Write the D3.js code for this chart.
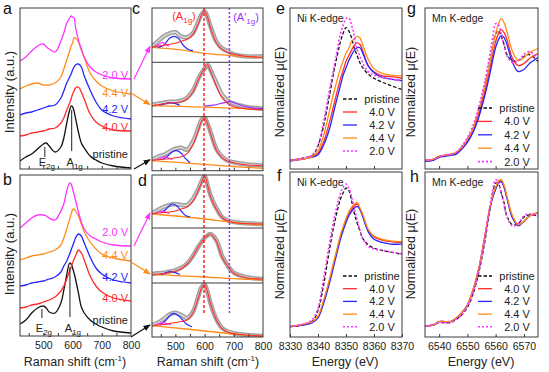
<!DOCTYPE html>
<html><head><meta charset="utf-8">
<script src="https://cdn.jsdelivr.net/npm/d3@7"></script>
<style>
body{margin:0;background:#fff}
svg{display:block}
text{font-family:"Liberation Sans",Arial,sans-serif}
</style></head>
<body><svg id="chart" width="549" height="372"></svg>
<script>
// ---------------- DATA ----------------
const seriesLabels = ["pristine","4.0 V","4.2 V","4.4 V","2.0 V"];
const seriesColors = ["#111111","#ff2b2b","#2626ff","#ff8c1a","#ff33ff"];

// Raman (panels a, b)
const ramanShift = [420,440,460,480,500,510,520,540,560,570,580,590,595,600,605,610,620,630,640,660,680,700,740,800];
const aPristine = [8,12,15,20,25,26,23,17,22,31,46,59,63,62,58,51,37,26,21,13,9,6,3,1];
const a40 = [33,34,36,37,38,39,40,41,46,51,59,66,70,75,78,81,82,77,70,55,47,43,39,38];
const a42 = [54,56,57,59,61,62,63,64,71,78,86,92,95,99,102,104,105,102,93,79,67,59,53,50];
const a44 = [80,83,85,86,84,84,84,86,92,100,109,118,123,126,131,131,127,119,111,96,88,83,78,75];
const a20 = [108,112,118,123,125,122,120,117,128,136,146,151,153,152,151,142,129,120,112,102,97,94,91,90];
const bPristine = [12,16,23,28,30,28,24,23,33,46,61,73,72,68,63,57,43,29,23,16,12,9,5,3];
const b40 = [28,29,31,32,34,35,36,39,45,50,57,65,69,73,77,80,86,83,76,60,50,44,38,35];
const b42 = [50,51,53,54,55,56,57,59,64,70,75,82,86,90,94,98,102,100,93,79,68,62,56,53];
const b44 = [76,78,80,81,82,83,84,86,91,98,107,117,122,126,127,125,120,112,104,94,87,82,78,75];
const b20 = [108,113,118,121,121,120,118,116,125,132,145,153,152,147,142,136,124,114,107,100,97,94,91,90];

// Peak fits (panels c, d)
const fitShift = [420,440,460,480,500,520,540,560,580,590,600,610,620,640,660,680,700,740,800];
const baseShift = [420,520,600,700,800];
const c1Data = [16,21,26,29,30,26,25,29,42,48,51,45,36,21,14,11,8,6,6];
const c1Red  = [15,16,17,18,19,21,23,28,40,48,51,45,35,20,13,10,8,6,5];
const c1BlueX = [440,460,480,495,510,530,550,560]; const c1Blue = [15,17,24,26,24,16,12,12];
const c1MagX = [430,445,455,465,480]; const c1Mag = [16,18,20,18,16];
const c1Base = [15,12.5,9,6.5,5];
const c2Data = [12,13,14,15,15,16,19,26,39,44,48,52,47,34,22,16,13,10,8];
const c2Red  = [11,12,13,14,14,15,18,25,38,44,48,52,46,31,19,13,10,8,7];
const c2PurX = [600,630,660,685,710,740,770,800]; const c2Pur = [10.5,11.5,13.5,15,13,10,8.5,8];
const c2BlueX = [445,465,482,500,515]; const c2Blue = [11.5,13,14,13,11.5];
const c2Base = [11,10.3,9.5,8.5,7.7];
const c3Data = [11,14,16,19,22,23,21,29,44,51,53,47,39,22,14,10,8.5,6.5,5.3];
const c3Red  = [10.5,11,11.5,12,13,14,17,26,42,50,53,47,38,21,13,9.5,8,6,5];
const c3BlueX = [455,475,490,505,520,535,550]; const c3Blue = [11,15,19,20,17.5,12,8];
const c3MagX = [440,455,465,478,490]; const c3Mag = [11,13,14,12.5,11];
const c3Base = [10,8,6.3,4.2,2.3];
const d1Data = [15,18,21,23,24,23,23,29,40,47,52,43,33,20,11,7.5,6,4.7,4];
const d1Red  = [14.5,15,15.5,16,17,19,21,27,39,46,52,43,32,19,10.5,7,5.5,4.5,4];
const d1BlueX = [450,465,480,490,505,520,535,550]; const d1Blue = [15,18,22.5,24,22,17,12.5,11];
const d1MagX = [430,445,455,465,480]; const d1Mag = [14.5,16,17,16,14.5];
const d1Base = [14,11.5,9,5.5,3];
const d2Data = [9,9.7,10.3,11.5,12.7,15.3,19.5,27,37,41,45,47.5,49,43,27,17,10.3,6,4];
const d2Red  = [8.5,9,9.5,10.5,12,14.5,19,26.5,37,41,45,47.5,49,42,26,16.5,10,5.5,4];
const d2BlueX = [450,468,482,500,515]; const d2Blue = [8.5,10.3,11.3,10.3,8.5];
const d2Base = [8.7,7.2,6,4.3,3];
const d3Data = [12,14.3,18,22.5,24.3,22,19,25,42,50,52.5,45,34,18,9,5.5,3.8,2.2,1];
const d3Red  = [11.5,12,12.5,13.5,14.5,15.5,17,24,41,49.5,52.5,45,33.5,17.5,8.5,5,3.5,2,1];
const d3BlueX = [448,465,480,494,510,525,540,557]; const d3Blue = [12,16,21,23.7,21.5,17,12.5,10.3];
const d3MagX = [430,445,459,470,485]; const d3Mag = [12,13.5,14.3,13.5,12];
const d3Base = [11.3,8.5,6,3,0.5];
const a1gShift = 598, a1gPrimeShift = 685;

// XANES Ni K-edge (e, f)
const niEnergy = [8330,8335,8338,8340,8342,8344,8346,8348,8349,8350,8351,8352,8353,8354,8355,8356,8358,8360,8363,8366,8370];
const ePristine = [0,0.03,0.06,0.18,0.43,0.79,1.16,1.47,1.58,1.65,1.61,1.52,1.39,1.30,1.21,1.15,1.07,1.02,0.97,0.93,0.88];
const e40 = [0,0.02,0.05,0.09,0.23,0.46,0.74,1.01,1.12,1.23,1.30,1.37,1.43,1.46,1.44,1.36,1.17,1.10,1.05,1.04,1.02];
const e42 = [-0.01,0.02,0.04,0.07,0.19,0.38,0.66,0.93,1.06,1.15,1.24,1.31,1.37,1.40,1.40,1.33,1.17,1.09,1.03,1.01,0.99];
const e44 = [0,0.02,0.05,0.12,0.31,0.60,0.89,1.14,1.24,1.33,1.39,1.48,1.51,1.54,1.52,1.43,1.25,1.14,1.08,1.06,1.05];
const e20 = [0,0.03,0.07,0.19,0.48,0.86,1.21,1.57,1.68,1.76,1.77,1.68,1.54,1.38,1.29,1.21,1.10,1.06,1.03,1.01,0.99];
const fPristine = [0,0.02,0.07,0.20,0.52,0.94,1.31,1.59,1.67,1.73,1.70,1.57,1.41,1.29,1.19,1.10,1.02,0.98,0.95,0.93,0.90];
const f40 = [0,0.03,0.06,0.12,0.31,0.56,0.84,1.12,1.23,1.33,1.41,1.47,1.51,1.53,1.47,1.39,1.20,1.12,1.08,1.06,1.05];
const f42 = [0,0.02,0.05,0.11,0.29,0.53,0.81,1.09,1.20,1.30,1.38,1.44,1.48,1.50,1.46,1.37,1.18,1.09,1.05,1.03,1.03];
const f44 = [0,0.03,0.06,0.13,0.33,0.58,0.86,1.14,1.25,1.35,1.43,1.49,1.53,1.55,1.48,1.40,1.21,1.13,1.09,1.07,1.06];
const f20 = [0,0.03,0.09,0.23,0.60,1.02,1.39,1.66,1.74,1.78,1.73,1.62,1.47,1.33,1.20,1.10,1.00,0.97,0.95,0.93,0.91];

// XANES Mn K-edge (g, h)
const mnEnergy = [6535,6538,6540,6542,6544,6546,6548,6550,6552,6554,6556,6558,6559,6560,6561,6562,6563,6564,6566,6568,6570,6572,6575];
const gPristine = [0,0.01,0.04,0.05,0.06,0.07,0.13,0.21,0.32,0.49,0.71,0.99,1.14,1.27,1.30,1.24,1.16,1.06,1.00,1.00,1.04,1.06,0.99];
const g40 = [0,0.01,0.04,0.05,0.06,0.07,0.12,0.19,0.30,0.46,0.67,0.92,1.06,1.19,1.27,1.31,1.28,1.21,1.02,0.95,0.97,1.02,1.07];
const g42 = [-0.01,0,0.03,0.04,0.05,0.06,0.11,0.18,0.28,0.43,0.63,0.87,1.01,1.13,1.21,1.25,1.23,1.16,0.98,0.89,0.91,0.97,1.03];
const g44 = [0,0.01,0.04,0.05,0.06,0.08,0.13,0.21,0.32,0.50,0.72,0.98,1.13,1.27,1.37,1.42,1.38,1.29,1.09,1.00,1.03,1.08,1.12];
const g20 = [0,0.01,0.04,0.05,0.06,0.08,0.14,0.23,0.35,0.53,0.77,1.07,1.24,1.37,1.36,1.27,1.15,1.05,0.98,1.00,1.06,1.09,1.02];
const hPristine = [0,0.01,0.03,0.03,0.03,0.06,0.10,0.17,0.29,0.48,0.74,1.06,1.20,1.30,1.29,1.21,1.12,1.00,0.92,0.93,0.99,1.01,1.00];
const h40 = [0,0.01,0.04,0.04,0.04,0.07,0.12,0.19,0.33,0.52,0.79,1.08,1.18,1.25,1.31,1.32,1.27,1.17,0.99,0.92,0.95,1.00,1.03];
const h42 = [0,0.01,0.04,0.04,0.04,0.07,0.12,0.19,0.32,0.51,0.78,1.07,1.17,1.24,1.30,1.31,1.26,1.16,0.98,0.91,0.95,1.00,1.03];
const h44 = [0,0.01,0.04,0.04,0.04,0.07,0.12,0.19,0.33,0.52,0.79,1.08,1.19,1.26,1.32,1.33,1.28,1.18,1.00,0.92,0.95,1.00,1.03];
const h20 = [0,0.01,0.03,0.03,0.03,0.06,0.10,0.18,0.30,0.50,0.77,1.09,1.24,1.33,1.30,1.20,1.10,0.99,0.91,0.93,1.00,1.02,1.00];

const ramanTicks = [500,600,700,800];
const ramanMinor = [450,500,550,600,650,700,750];
const niTicks = [8330,8340,8350,8360,8370];
const mnTicks = [6540,6550,6560,6570];

// ---------------- DRAWING ----------------
const svg = d3.select("#chart");
const FRAME = "#3a3a3a";
let clipId = 0;

function clipGroup(x0,x1,y0,y1){
  const id = "clip"+(clipId++);
  svg.append("clipPath").attr("id",id).append("rect")
    .attr("x",x0).attr("y",y0).attr("width",x1-x0).attr("height",y1-y0);
  return svg.append("g").attr("clip-path","url(#"+id+")");
}
function frame(x0,x1,y0,y1){
  svg.append("rect").attr("x",x0).attr("y",y0).attr("width",x1-x0).attr("height",y1-y0)
    .attr("fill","none").attr("stroke",FRAME).attr("stroke-width",1);
}
function curve(g, xs, ys, xS, yS, color, w, dash){
  const line = d3.line().x(i=>xS(xs[i])).y(i=>yS(ys[i])).curve(d3.curveCatmullRom.alpha(0.5));
  const p = g.append("path").attr("d", line(d3.range(xs.length)))
    .attr("fill","none").attr("stroke",color).attr("stroke-width",w)
    .attr("stroke-linejoin","round").attr("stroke-linecap","butt");
  if(dash) p.attr("stroke-dasharray",dash);
  return p;
}
function bottomAxis(xS, y, ticks, labels){
  const ax = d3.axisBottom(xS).tickValues(ticks).tickSizeInner(-3).tickSizeOuter(0).tickPadding(6)
    .tickFormat(labels ? d3.format("d") : "");
  const g = svg.append("g").attr("transform","translate(0,"+y+")").call(ax);
  g.select(".domain").remove();
  g.selectAll("line").attr("stroke",FRAME);
  g.selectAll("text").attr("font-size",10.5).attr("fill","#222")
    .attr("font-family","Liberation Sans, Arial, sans-serif");
  return g;
}
function panelLetter(t,x,y){
  svg.append("text").attr("x",x).attr("y",y).attr("font-size",16).attr("fill","#111").text(t);
}
function yTitle(t,x,y,size){
  svg.append("text").attr("transform","translate("+x+","+y+") rotate(-90)")
    .attr("text-anchor","middle").attr("font-size",size||13).attr("fill","#222").text(t);
}
function ramanTitle(cx,y){
  const t = svg.append("text").attr("x",cx).attr("y",y).attr("text-anchor","middle")
    .attr("font-size",12.5).attr("fill","#222");
  t.append("tspan").text("Raman shift (cm");
  t.append("tspan").attr("font-size",8).attr("dy",-5).text("-1");
  t.append("tspan").attr("dy",5).text(")");
}
function subLabel(x,y,main,sub,color,anchor,open,close){
  const t = svg.append("text").attr("x",x).attr("y",y).attr("text-anchor",anchor||"middle")
    .attr("font-size",11).attr("fill",color);
  t.append("tspan").text((open||"")+main);
  t.append("tspan").attr("font-size",8).attr("dy",3).text(sub);
  if(close) t.append("tspan").attr("dy",-3).text(close);
}

// ---- Panels a & b ----
const xA = d3.scaleLinear().domain([420,800]).range([20,131]);
const yA = d3.scaleLinear().domain([0,161]).range([169,8]);
const yB = d3.scaleLinear().domain([0,161]).range([336,175]);
const aSeries = [aPristine,a40,a42,a44,a20];
const bSeries = [bPristine,b40,b42,b44,b20];
[[aSeries,yA,[8,169]],[bSeries,yB,[175,336]]].forEach(([ser,yS,[t,b]])=>{
  const g = clipGroup(20,131,t,b);
  ser.forEach((ys,i)=>curve(g, ramanShift, ys, xA, yS, seriesColors[i], 1.3));
  frame(20,131,t,b);
});
bottomAxis(xA,169,ramanMinor,false);
bottomAxis(xA,336,ramanMinor,false);
bottomAxis(xA,336,ramanTicks,true).selectAll("line").remove();
// voltage labels a, b
const aLabelY = [158,131,113,97,79];
const bLabelY = [324,302,281,259,236];
seriesLabels.forEach((l,i)=>{
  svg.append("text").attr("x",128).attr("y",aLabelY[i]).attr("text-anchor","end")
    .attr("font-size",11).attr("fill",i===0?"#222":seriesColors[i]).text(l);
  svg.append("text").attr("x",128).attr("y",bLabelY[i]).attr("text-anchor","end")
    .attr("font-size",11).attr("fill",i===0?"#222":seriesColors[i]).text(l);
});
// mode markers
function modeMark(yS, xv, v0, v1){
  svg.append("line").attr("x1",xA(xv)).attr("x2",xA(xv)).attr("y1",yS(v0)).attr("y2",yS(v1))
    .attr("stroke","#222").attr("stroke-width",1);
}
modeMark(yA,505,22,12); modeMark(yA,597,59,18);
subLabel(xA(505)+2,166,"E","2g","#222");
subLabel(xA(597)+3,166,"A","1g","#222");
modeMark(yB,495,27,18); modeMark(yB,591,69,19);
subLabel(xA(495)+2,332,"E","2g","#222");
subLabel(xA(591)+3,332,"A","1g","#222");

// ---- Panels c & d ----
const xC = d3.scaleLinear().domain([420,800]).range([152,263]);
const cBounds = [[8,62.3],[62.3,116.7],[116.7,170.7]];
const dBounds = [[175,228],[228,283],[283,337]];
const sub = [
  {b:cBounds[0],data:c1Data,red:c1Red,blue:[c1BlueX,c1Blue],mag:[c1MagX,c1Mag],base:c1Base},
  {b:cBounds[1],data:c2Data,red:c2Red,blue:[c2BlueX,c2Blue],pur:[c2PurX,c2Pur],base:c2Base},
  {b:cBounds[2],data:c3Data,red:c3Red,blue:[c3BlueX,c3Blue],mag:[c3MagX,c3Mag],base:c3Base},
  {b:dBounds[0],data:d1Data,red:d1Red,blue:[d1BlueX,d1Blue],mag:[d1MagX,d1Mag],base:d1Base},
  {b:dBounds[1],data:d2Data,red:d2Red,blue:[d2BlueX,d2Blue],base:d2Base},
  {b:dBounds[2],data:d3Data,red:d3Red,blue:[d3BlueX,d3Blue],mag:[d3MagX,d3Mag],base:d3Base}
];
sub.forEach(s=>{
  const [t,b] = s.b;
  s.y = d3.scaleLinear().domain([0,54]).range([b,b-54]);
  const g = clipGroup(152,263,t-2,b);
  curve(g, fitShift, s.data, xC, s.y, "#a2a2a2", 4.5);
  curve(g, fitShift, s.data, xC, s.y, "#d9d9d9", 1.4);
  curve(g, baseShift, s.base, xC, s.y, "#ff8c1a", 1.3);
  if(s.pur) curve(g, s.pur[0], s.pur[1], xC, s.y, "#9933ff", 1.2);
  curve(g, s.blue[0], s.blue[1], xC, s.y, "#2626ff", 1.2);
  if(s.mag) curve(g, s.mag[0], s.mag[1], xC, s.y, "#ff33ff", 1.2);
  curve(g, fitShift, s.red, xC, s.y, "#ff2b2b", 1.1);
});
// dashed markers
[[8,170.7],[175,313]].forEach(([t,b],k)=>{
  svg.append("line").attr("x1",xC(a1gShift)).attr("x2",xC(a1gShift)).attr("y1",t).attr("y2",b)
    .attr("stroke","#ff2b2b").attr("stroke-width",1.5).attr("stroke-dasharray","3,2");
  svg.append("line").attr("x1",xC(a1gPrimeShift)).attr("x2",xC(a1gPrimeShift)).attr("y1",t).attr("y2",b)
    .attr("stroke","#9933ff").attr("stroke-width",1.5).attr("stroke-dasharray","2,2");
});
frame(152,263,8,170.7); frame(152,263,175,337);
[62.3,116.7,228,283].forEach(y=>svg.append("line").attr("x1",152).attr("x2",263).attr("y1",y).attr("y2",y)
  .attr("stroke",FRAME).attr("stroke-width",1));
bottomAxis(xC,170.7,ramanMinor,false);
bottomAxis(xC,337,ramanMinor,false);
bottomAxis(xC,337,ramanTicks,true).selectAll("line").remove();
subLabel(184,20,"A","1g","#ff2b2b","middle","(",")");
subLabel(246,21,"A′","1g","#9933ff","middle","(",")");

// arrows
const defs = svg.append("defs");
[["k","#111"],["o","#ff8c1a"],["m","#ff33ff"]].forEach(([id,c])=>{
  defs.append("marker").attr("id","ar"+id).attr("viewBox","0 0 10 10").attr("refX",9).attr("refY",5)
    .attr("markerWidth",6).attr("markerHeight",6).attr("orient","auto-start-reverse")
    .append("path").attr("d","M0,1 L10,5 L0,9 z").attr("fill",c);
});
function arrow(x1,y1,x2,y2,id,c){
  svg.append("line").attr("x1",x1).attr("y1",y1).attr("x2",x2).attr("y2",y2)
    .attr("stroke",c).attr("stroke-width",1.2).attr("marker-end","url(#ar"+id+")");
}
const last = a=>a[a.length-1];
arrow(134,yA(last(a20)),150,sub[0].y(c1Data[0]),"m","#ff33ff");
arrow(131,yA(last(a44))-1,150,sub[1].y(c2Data[0]),"o","#ff8c1a");
arrow(134,yA(last(aPristine))+1,150,sub[2].y(c3Data[0]),"k","#111");
arrow(134,yB(last(b20)),150,sub[3].y(d1Data[0]),"m","#ff33ff");
arrow(131,yB(last(b44))+1,150,sub[4].y(d2Data[0]),"o","#ff8c1a");
arrow(131,yB(last(bPristine))+4,150,sub[5].y(d3Data[0]),"k","#111");

// ---- XANES panels ----
const xE = d3.scaleLinear().domain([8330,8370]).range([290,402]);
const xG = d3.scaleLinear().domain([6535,6575]).range([425,538]);
const yE = d3.scaleLinear().domain([-0.107,1.893]).range([169,8]);
const yF = d3.scaleLinear().domain([-0.13,1.93]).range([337,172]);
const yG = d3.scaleLinear().domain([-0.087,1.527]).range([169,8]);
const yH = d3.scaleLinear().domain([-0.1,1.4]).range([337,172]);
const styles = [
  {w:1.3,dash:"3.5,2"},{w:1.3},{w:1.3},{w:1.3},{w:1.6,dash:"2,2"}
];
const xanes = [
  {x:xE,y:yE,e:niEnergy,s:[ePristine,e40,e42,e44,e20],box:[290,402,8,169],edge:"Ni K-edge",leg:[99,13],lx:343,tx:382},
  {x:xE,y:yF,e:niEnergy,s:[fPristine,f40,f42,f44,f20],box:[290,402,172,337],edge:"Ni K-edge",leg:[276,12.7],lx:343,tx:382},
  {x:xG,y:yG,e:mnEnergy,s:[gPristine,g40,g42,g44,g20],box:[425,538,8,169],edge:"Mn K-edge",leg:[108,13.4],lx:478,tx:517},
  {x:xG,y:yH,e:mnEnergy,s:[hPristine,h40,h42,h44,h20],box:[425,538,172,337],edge:"Mn K-edge",leg:[276,12.7],lx:478,tx:517}
];
xanes.forEach(p=>{
  const [x0,x1,t,b] = p.box;
  const g = clipGroup(x0,x1,t,b);
  p.s.forEach((ys,i)=>curve(g,p.e,ys,p.x,p.y,seriesColors[i],styles[i].w,styles[i].dash));
  frame(x0,x1,t,b);
  svg.append("text").attr("x",x0+7).attr("y",t+14).attr("font-size",10.5).attr("fill","#222").text(p.edge);
  seriesLabels.forEach((l,i)=>{
    const yy = p.leg[0]+i*p.leg[1];
    const ln = svg.append("line").attr("x1",p.lx).attr("x2",p.lx+14).attr("y1",yy).attr("y2",yy)
      .attr("stroke",seriesColors[i]).attr("stroke-width",styles[i].w);
    if(styles[i].dash) ln.attr("stroke-dasharray",styles[i].dash);
    svg.append("text").attr("x",p.tx).attr("y",yy+4).attr("text-anchor","middle")
      .attr("font-size",11).attr("fill","#222").text(l);
  });
});
bottomAxis(xE,169,[8340,8350,8360],false);
bottomAxis(xE,337,niTicks,true);
bottomAxis(xG,169,mnTicks,false);
bottomAxis(xG,337,mnTicks,true);

// titles & letters
yTitle("Intensity (a.u.)",14,92); yTitle("Intensity (a.u.)",14,254);
yTitle("Normalized μ(E)",284,92,12.5); yTitle("Normalized μ(E)",284,254,12.5);
yTitle("Normalized μ(E)",415,92,12.5); yTitle("Normalized μ(E)",415,254,12.5);
ramanTitle(75,366); ramanTitle(208,366);
svg.append("text").attr("x",345).attr("y",366).attr("text-anchor","middle").attr("font-size",12.5).attr("fill","#222").text("Energy (eV)");
svg.append("text").attr("x",481).attr("y",366).attr("text-anchor","middle").attr("font-size",12.5).attr("fill","#222").text("Energy (eV)");
panelLetter("a",3,14); panelLetter("b",3,185);
panelLetter("c",132,14); panelLetter("d",138,186);
panelLetter("e",276,14); panelLetter("f",277,181);
panelLetter("g",407,14); panelLetter("h",410,182);
</script></body></html>
